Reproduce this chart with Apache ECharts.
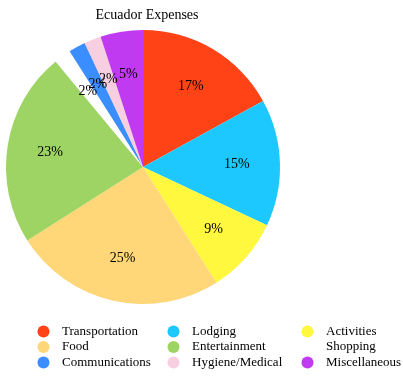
<!DOCTYPE html>
<html><head><meta charset="utf-8">
<script src="https://cdn.jsdelivr.net/npm/echarts@6/dist/echarts.min.js"></script>
<style>html,body{margin:0;padding:0;background:#fff}#c{width:403px;height:379px}</style>
</head><body><div id="c"></div>
<script>
const categories = ['Transportation','Lodging','Activities','Food','Entertainment','Shopping','Communications','Hygiene/Medical','Miscellaneous'];
const values = [17, 15, 9, 25, 23, 2, 2, 2, 5];
const colors = ['#FF4316','#1DC8FF','#FFF83E','#FFD678','#9DD463','#FFFFFF','#3A8EFF','#F7CFE0','#C03AF2'];
const legendCols = [
  ['Transportation','Food','Communications'],
  ['Lodging','Entertainment','Hygiene/Medical'],
  ['Activities','Shopping','Miscellaneous']
];
const FONT = 'Liberation Serif';
const chart = echarts.init(document.getElementById('c'));
const mainData = categories.map((n,i)=>({name:n, value:values[i], itemStyle:{color:colors[i]}}));
const labelData = categories.map((n,i)=>({name:n, value:values[i], itemStyle:{color:'rgba(0,0,0,0)'}}));
const legendLefts = [37.5, 167.5, 301.5];
chart.setOption({
  animation:false,
  title:{text:'Ecuador Expenses', left:142, top:3, textAlign:'center',
    textStyle:{fontFamily:FONT, fontSize:14, fontWeight:'normal', color:'#000'}},
  legend: legendCols.map((col,i)=>({
    data: col, orient:'vertical', left: legendLefts[i], top: 325,
    icon:'circle', itemWidth:27, itemHeight:12, itemGap:2.5,
    selectedMode:false, padding:0,
    textStyle:{fontFamily:FONT, fontSize:13, color:'#000'}
  })),
  series:[
    {type:'pie', center:[143,167], radius:137, startAngle:90, clockwise:true,
     label:{show:false}, labelLine:{show:false}, data: mainData, silent:true},
    {type:'pie', center:[143,167], radius:[45,137], startAngle:90, clockwise:true,
     silent:true, labelLine:{show:false}, avoidLabelOverlap:false,
     labelLayout:{hideOverlap:false},
     label:{show:true, position:'inside', formatter:p=>p.value+'%',
       fontFamily:FONT, fontSize:14, color:'#000'},
     data: labelData}
  ]
});
</script></body></html>
